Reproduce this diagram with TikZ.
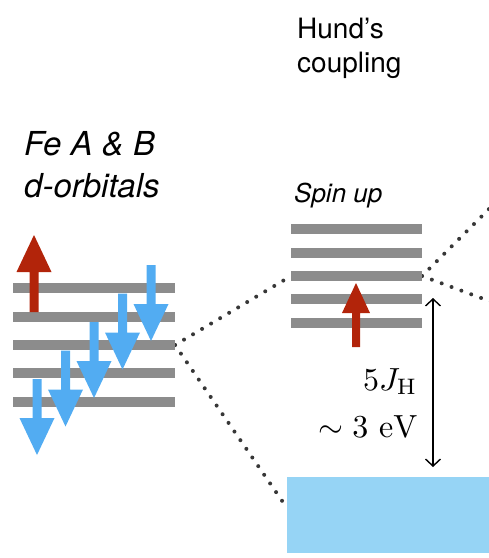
\documentclass[tikz,border=0pt]{standalone}
\usepackage{fontspec}
\newfontfamily\helv{TeX Gyre Heros}
\usetikzlibrary{arrows.meta}
\definecolor{levelgray}{RGB}{140,140,140}
\definecolor{spinblue}{RGB}{82,172,242}
\definecolor{spinred}{RGB}{178,36,10}
\definecolor{bandblue}{RGB}{150,212,245}
\definecolor{dotgray}{RGB}{55,55,55}
\tikzset{
	level/.style={line width=10pt, color=levelgray, line cap=butt},
	hop/.style={color=dotgray, line width=4pt, line cap=round, dash pattern=on 0pt off 10.5pt},
	lbl/.style={anchor=base west, inner sep=0pt},
}
\begin{document}
\begin{tikzpicture}[x=1pt,y=-1pt,>={Straight Barb[length=7pt,width=15pt]}, line join=round]
			\useasboundingbox (0,0) rectangle (489,558);
			\def\sw{4.5} \def\hw{17.5} \def\hl{37} % arrow sizes
			% 	 	\draw[color=gray!50,dashed] (0,0) grid[step=50] (489,558);
			\node[lbl,font=\helv\fontsize{28}{34}\selectfont] (hund) at (297,38) {Hund’s};
			\node[lbl,font=\helv\fontsize{28}{34}\selectfont] (coupling) at (297,72) {coupling};
			\node[lbl,font=\helv\itshape\fontsize{33}{38}\selectfont] (fe) at (24,155) {Fe A \& B};
			\node[lbl,font=\helv\itshape\fontsize{33}{38}\selectfont] (dorb) at (24,197) {d-orbitals};
			\node[lbl,font=\helv\itshape\fontsize{26}{30}\selectfont] (spinup) at (294,202) {Spin up};
			% band
			\node[fill=bandblue, anchor=north west, minimum width=210pt, minimum height=76pt, inner sep=0pt] (band) at (287,477) {};
			\coordinate (bandw) at (287,508);
			\coordinate (outup) at (500,198);
			\coordinate (outdn) at (500,305);
			% levels
			\foreach \y [count=\k] in {288,317,345,373,402}
				\coordinate (L\k w) at (13,\y) coordinate (L\k e) at (175,\y);
			\foreach \y [count=\k] in {229,253,276,299,323}
				\coordinate (U\k w) at (291,\y) coordinate (U\k e) at (422,\y);
			\draw[hop] (L3e)--(U3w);
			\draw[hop] (L3e)--(bandw);
			\draw[hop] (U3e)--(outup);
			\draw[hop] (U3e)--(outdn);
			\foreach \k in {1,...,5}{
				\draw[level] (L\k w)--(L\k e);
				\draw[level] (U\k w)--(U\k e);
			}
			% spin down
			\foreach \i in {0,...,4}{
				\pgfmathsetmacro\ax{37+28.5*\i}
				\pgfmathsetmacro\at{379-28.5*\i}
				\fill[spinblue] (\ax-\sw,\at)--(\ax+\sw,\at)--(\ax+\sw,\at+76-\hl)--(\ax+\hw,\at+76-\hl)
					--(\ax,\at+76)--(\ax-\hw,\at+76-\hl)--(\ax-\sw,\at+76-\hl)--cycle;
			}
			% spin up
			\fill[spinred] (34-\sw,312)--(34+\sw,312)--(34+\sw,235+\hl)--(34+\hw,235+\hl)
				--(34,235)--(34-\hw,235+\hl)--(34-\sw,235+\hl)--cycle;
			\fill[spinred] (356-4,347)--(356+4,347)--(356+4,313)--(356+14,313)
				--(356,283)--(356-14,313)--(356-4,313)--cycle;
			% gap
			\coordinate (gaptop) at (433,298);
			\coordinate (gapbot) at (433,467);
			\draw[<->,line width=1.4pt] (gaptop)--(gapbot);
			\node[anchor=base east,inner sep=0pt,scale=3.2] (jh) at (418,390) {$5J_{\mathrm{H}}$};
			\node[anchor=base east,inner sep=0pt,scale=3.2] (ev) at (418,437) {$\sim 3\ \mathrm{eV}$};
	\end{tikzpicture}
\end{document}
